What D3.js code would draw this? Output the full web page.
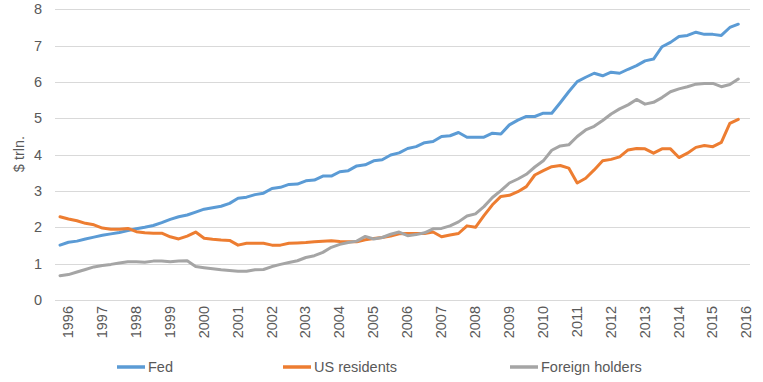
<!DOCTYPE html>
<html><head><meta charset="utf-8">
<script src="https://cdn.jsdelivr.net/npm/d3@7"></script>
<style>body{margin:0;background:#fff}svg{display:block}text{font-family:"Liberation Sans",Arial,sans-serif}</style>
</head><body><svg id="c" width="763" height="382"></svg>
<script>
const years = ["1996","1997","1998","1999","2000","2001","2002","2003","2004","2005","2006","2007","2008","2009","2010","2011","2012","2013","2014","2015","2016"];
const yTicks = [0,1,2,3,4,5,6,7,8];
const seriesNames = ["Fed","US residents","Foreign holders"];
const fed = [1.51,1.59,1.62,1.68,1.73,1.78,1.82,1.86,1.91,1.96,2.00,2.05,2.13,2.22,2.29,2.34,2.42,2.50,2.54,2.58,2.66,2.80,2.83,2.90,2.94,3.07,3.10,3.18,3.19,3.28,3.30,3.41,3.41,3.53,3.56,3.69,3.72,3.83,3.86,3.99,4.05,4.17,4.22,4.33,4.36,4.50,4.52,4.61,4.48,4.48,4.48,4.59,4.57,4.82,4.95,5.05,5.05,5.14,5.14,5.43,5.73,6.01,6.13,6.24,6.17,6.27,6.24,6.35,6.45,6.58,6.63,6.97,7.09,7.25,7.28,7.37,7.31,7.31,7.28,7.50,7.59];
const usResidents = [2.29,2.23,2.18,2.11,2.07,1.98,1.95,1.95,1.97,1.88,1.85,1.84,1.84,1.74,1.68,1.76,1.87,1.70,1.67,1.65,1.64,1.51,1.56,1.56,1.56,1.51,1.51,1.56,1.57,1.58,1.60,1.62,1.63,1.61,1.60,1.60,1.66,1.69,1.72,1.76,1.82,1.83,1.83,1.83,1.87,1.74,1.79,1.83,2.04,2.00,2.32,2.62,2.85,2.88,2.98,3.12,3.44,3.56,3.67,3.70,3.63,3.22,3.35,3.58,3.83,3.87,3.94,4.13,4.17,4.16,4.04,4.16,4.16,3.92,4.04,4.20,4.25,4.22,4.34,4.86,4.97];
const foreign = [0.67,0.70,0.77,0.84,0.91,0.95,0.98,1.02,1.05,1.05,1.04,1.07,1.07,1.05,1.07,1.08,0.92,0.89,0.86,0.83,0.81,0.79,0.79,0.83,0.84,0.92,0.98,1.03,1.08,1.17,1.22,1.31,1.45,1.53,1.58,1.62,1.75,1.68,1.72,1.81,1.87,1.77,1.80,1.85,1.96,1.97,2.04,2.15,2.31,2.37,2.57,2.82,3.01,3.22,3.33,3.46,3.66,3.83,4.12,4.24,4.27,4.50,4.68,4.78,4.94,5.12,5.26,5.37,5.52,5.39,5.44,5.57,5.73,5.81,5.87,5.94,5.96,5.96,5.87,5.93,6.08];
const colors = ["#5B9BD5","#ED7D31","#A5A5A5"];

const quarters = [];
years.forEach(y => ["Q1","Q2","Q3","Q4"].forEach(q => quarters.push(y+q)));
quarters.length = fed.length;

const svg = d3.select("#c");
const x = d3.scalePoint().domain(quarters).range([60, 738.3]);
const y = d3.scaleLinear().domain([0,8]).range([300, 9.3]);

// gridlines
svg.append("g").selectAll("line").data(yTicks).join("line")
  .attr("x1",55).attr("x2",750)
  .attr("y1",d=>Math.round(y(d))+0.5).attr("y2",d=>Math.round(y(d))+0.5)
  .attr("stroke","#d9d9d9").attr("stroke-width",1);

// y labels
svg.append("g").selectAll("text").data(yTicks).join("text")
  .attr("x",42).attr("y",d=>y(d)).attr("dy","0.35em")
  .attr("text-anchor","end").attr("font-size",14.5).attr("fill","#595959")
  .text(d=>d);

svg.append("text").attr("transform","translate(24,154) rotate(-90)")
  .attr("text-anchor","middle").attr("font-size",14.5).attr("fill","#595959").text("$ trln.");

// x labels
svg.append("g").selectAll("text").data(years).join("text")
  .attr("transform",d=>`translate(${x(d+"Q1")+8},306) rotate(-90)`)
  .attr("text-anchor","end").attr("dy","0.35em").attr("font-size",14.5).attr("fill","#595959")
  .text(d=>d);

// lines
const all = [fed, usResidents, foreign];
const line = d3.line().x((d,i)=>x(quarters[i])).y(d=>y(d));
svg.append("g").selectAll("path").data(all).join("path")
  .attr("d",line).attr("fill","none")
  .attr("stroke",(d,i)=>colors[i]).attr("stroke-width",3)
  .attr("stroke-linejoin","round").attr("stroke-linecap","round");

// legend
const legX = [117, 283, 510];
const leg = svg.append("g").selectAll("g").data(seriesNames).join("g")
  .attr("transform",(d,i)=>`translate(${legX[i]},367)`);
leg.append("line").attr("x1",0).attr("x2",28).attr("y1",0).attr("y2",0)
  .attr("stroke",(d,i)=>colors[i]).attr("stroke-width",3.5);
leg.append("text").attr("x",31).attr("dy","0.35em").attr("font-size",14.5).attr("fill","#595959").text(d=>d);
</script></body></html>
